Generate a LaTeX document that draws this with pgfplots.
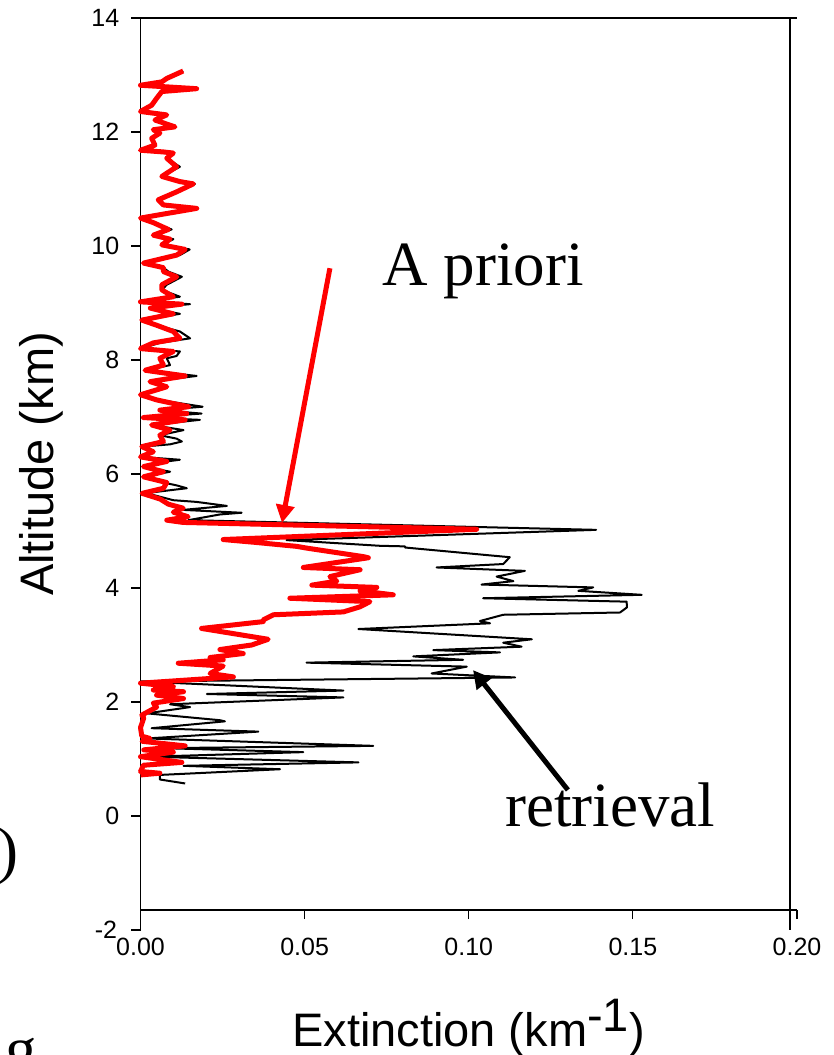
\documentclass[border=0pt]{standalone}
\usepackage{pgfplots}
\pgfplotsset{compat=1.18}
\usepackage{pgfplotstable}
\usepackage{fontspec}
\setmainfont{Liberation Serif}
\newfontfamily\arial{Liberation Sans}
\usetikzlibrary{arrows.meta}

\pgfplotstableread{
y x
13.07 0.0130
12.94 0.0080
12.88 0.0065
12.82 0.0000
12.76 0.0171
12.71 0.0065
12.59 0.0049
12.47 0.0034
12.36 0.0000
12.30 0.0080
12.21 0.0044
12.09 0.0105
12.04 0.0039
11.98 0.0059
11.89 0.0034
11.77 0.0044
11.68 0.0000
11.65 0.0070
11.63 0.0100
11.54 0.0080
11.39 0.0110
11.22 0.0065
11.13 0.0120
11.09 0.0161
10.95 0.0110
10.81 0.0054
10.72 0.0070
10.66 0.0171
10.57 0.0080
10.49 0.0000
10.41 0.0039
10.29 0.0085
10.19 0.0039
10.12 0.0090
10.02 0.0065
9.94 0.0136
9.84 0.0110
9.70 0.0009
9.62 0.0070
9.55 0.0070
9.46 0.0110
9.32 0.0065
9.23 0.0065
9.11 0.0100
9.02 0.0000
8.98 0.0126
8.91 0.0030
8.81 0.0100
8.70 0.0004
8.61 0.0049
8.50 0.0100
8.38 0.0120
8.30 0.0039
8.20 0.0000
8.15 0.0100
8.03 0.0059
7.91 0.0070
7.82 0.0014
7.72 0.0136
7.62 0.0029
7.53 0.0080
7.39 0.0000
7.30 0.0049
7.18 0.0146
7.12 0.0059
7.06 0.0141
6.99 0.0009
6.95 0.0136
6.86 0.0034
6.77 0.0090
6.68 0.0059
6.57 0.0070
6.48 0.0004
6.39 0.0039
6.30 0.0000
6.22 0.0080
6.13 0.0009
6.04 0.0070
5.95 0.0009
5.85 0.0080
5.75 0.0070
5.66 0.0005
5.56 0.0060
5.47 0.0085
5.40 0.0130
5.33 0.0100
5.25 0.0145
5.19 0.0080
5.15 0.0130
5.03 0.1024
4.85 0.0252
4.80 0.0350
4.73 0.0476
4.70 0.0506
4.55 0.0679
4.53 0.0694
4.36 0.0496
4.32 0.0669
4.20 0.0577
4.12 0.0598
4.05 0.0522
4.01 0.0720
3.95 0.0669
3.88 0.0770
3.82 0.0455
3.76 0.0699
3.67 0.0669
3.58 0.0618
3.53 0.0405
3.44 0.0374
3.41 0.0374
3.29 0.0186
3.10 0.0389
3.00 0.0339
2.92 0.0242
2.85 0.0313
2.78 0.0212
2.74 0.0252
2.68 0.0115
2.63 0.0252
2.50 0.0212
2.44 0.0283
2.33 0.0000
2.27 0.0100
2.21 0.0039
2.18 0.0131
2.12 0.0049
2.06 0.0131
1.98 0.0039
1.91 0.0049
1.77 0.0004
1.72 0.0010
1.55 0.0000
1.40 0.0004
1.36 0.0029
1.31 0.0005
1.23 0.0136
1.16 0.0010
1.12 0.0100
1.04 0.0000
0.94 0.0126
0.89 0.0009
0.78 0.0000
0.75 0.0059
0.72 0.0000
}\apriori

\pgfplotstableread{
y x
13.07 0.0130
12.94 0.0080
12.88 0.0065
12.82 0.0000
12.76 0.0171
12.71 0.0065
12.59 0.0049
12.47 0.0034
12.36 0.0000
12.30 0.0080
12.21 0.0044
12.09 0.0105
12.04 0.0039
11.98 0.0059
11.89 0.0034
11.77 0.0044
11.68 0.0000
11.65 0.0070
11.63 0.0100
11.54 0.0080
11.39 0.0120
11.22 0.0065
11.13 0.0120
11.09 0.0166
10.95 0.0110
10.81 0.0054
10.72 0.0070
10.66 0.0176
10.57 0.0080
10.49 0.0000
10.41 0.0039
10.29 0.0095
10.19 0.0039
10.12 0.0100
10.02 0.0065
9.94 0.0150
9.84 0.0120
9.70 0.0009
9.62 0.0070
9.55 0.0085
9.46 0.0126
9.32 0.0080
9.23 0.0065
9.11 0.0120
9.02 0.0000
8.98 0.0151
8.91 0.0030
8.81 0.0120
8.70 0.0004
8.61 0.0049
8.50 0.0120
8.38 0.0151
8.30 0.0059
8.20 0.0000
8.15 0.0120
8.07 0.0110
8.03 0.0080
7.91 0.0090
7.82 0.0014
7.72 0.0171
7.62 0.0029
7.53 0.0080
7.39 0.0000
7.30 0.0055
7.18 0.0189
7.12 0.0059
7.06 0.0186
6.99 0.0009
6.95 0.0181
6.86 0.0034
6.77 0.0131
6.68 0.0059
6.62 0.0110
6.57 0.0126
6.52 0.0090
6.48 0.0004
6.39 0.0039
6.30 0.0000
6.25 0.0120
6.22 0.0080
6.13 0.0009
6.04 0.0090
5.95 0.0009
5.85 0.0070
5.80 0.0110
5.75 0.0141
5.66 0.0010
5.63 0.0040
5.54 0.0100
5.51 0.0171
5.44 0.0263
5.37 0.0130
5.32 0.0308
5.29 0.0242
5.19 0.0146
5.02 0.1388
4.84 0.0445
4.74 0.0730
4.73 0.0806
4.71 0.0806
4.54 0.1125
4.42 0.1105
4.36 0.0902
4.30 0.1171
4.20 0.1085
4.12 0.1136
4.06 0.1039
4.01 0.1379
3.95 0.1334
3.88 0.1527
3.82 0.1044
3.76 0.1481
3.66 0.1482
3.57 0.1461
3.53 0.1105
3.42 0.1034
3.38 0.1065
3.28 0.0664
3.10 0.1192
3.04 0.1105
2.97 0.1161
2.91 0.0892
2.87 0.1095
2.80 0.0831
2.74 0.0983
2.69 0.0506
2.62 0.0994
2.50 0.0887
2.43 0.1141
2.36 0.0000
2.20 0.0618
2.14 0.0202
2.08 0.0618
1.96 0.0090
1.91 0.0151
1.80 0.0020
1.68 0.0242
1.66 0.0257
1.54 0.0034
1.48 0.0359
1.36 0.0020
1.23 0.0709
1.19 0.0070
1.12 0.0496
1.04 0.0029
0.94 0.0664
0.88 0.0131
0.82 0.0425
0.72 0.0059
0.64 0.0059
0.57 0.0136
}\retrieval

\begin{document}
\begin{tikzpicture}
\begin{axis}[
  at={(70.25pt,-455pt)}, anchor=south west,
  scale only axis, width=328.25pt, height=446pt,
  xmin=0, xmax=0.2, ymin=-1.65, ymax=14,
  axis lines*=left,
  axis line style={black, line width=0.6pt},
  clip=false,
  tick align=outside,
  major tick length=4.6pt,
  tick style={black, line width=0.6pt},
  xtick={0,0.05,0.1,0.15,0.2},
  ytick={0,2,4,6,8,10,12,14},
  scaled x ticks=false,
  /pgf/number format/assume math mode=true,
  ticklabel style={font=\arial\fontsize{12.5}{14}\selectfont},
  x tick label style={/pgf/number format/.cd, fixed, fixed zerofill, precision=2, /tikz/.cd, yshift=-6pt},
  y tick label style={xshift=-2.5pt},
]
\addplot[black, line width=1pt, line join=round] table[x=x, y=y]{\retrieval};
\addplot[red, line width=2.5pt, line join=round] table[x=x, y=y]{\apriori};
% arrows
\draw[red, line width=2.5pt, -{Triangle[width=9pt,length=9pt]}] (axis cs:0.0577,9.61) -- (axis cs:0.0431,5.14);
\draw[black, line width=2.5pt, -{Triangle[width=9pt,length=9pt]}] (axis cs:0.1302,0.456) -- (axis cs:0.1013,2.56);
\end{axis}
% frame parts (absolute coordinates: 1 px = 0.5 pt)
\draw[line width=0.6pt] (70.25pt,-9pt) -- (398.5pt,-9pt);
\draw[line width=0.6pt] (395pt,-9pt) -- (395pt,-465pt);
\draw[line width=0.6pt] (70.25pt,-454.7pt) -- (70.25pt,-465pt);
\draw[line width=0.6pt] (70.55pt,-465pt) -- (65.65pt,-465pt);
\node[anchor=east, font=\arial\fontsize{12.5}{14}\selectfont, inner sep=0pt] at (58.7pt,-465pt) {-2};
% labels
\node[anchor=base, font=\arial\fontsize{23.5}{26}\selectfont, inner sep=0pt] at (234.25pt,-523pt) {Extinction (km\raisebox{7.5pt}{-1})};
\node[anchor=base, rotate=90, font=\arial\fontsize{23.5}{26}\selectfont, inner sep=0pt] at (27pt,-232pt) {Altitude (km)};
\node[anchor=base west, font=\fontsize{31.5}{34}\selectfont, inner sep=0pt] at (191pt,-142.5pt) {A priori};
\node[anchor=base west, font=\fontsize{31.5}{34}\selectfont, inner sep=0pt] at (252.5pt,-413pt) {retrieval};
% cropped fragments of neighbouring text
\node[anchor=base west, font=\fontsize{31.5}{34}\selectfont, inner sep=0pt] at (-1.3pt,-435.5pt) {)};
\node[anchor=base west, font=\fontsize{31.5}{34}\selectfont, inner sep=0pt] at (2.5pt,-535pt) {g};
\pgfresetboundingbox
\path[use as bounding box] (0,0) rectangle (417pt,-527.5pt);
\end{tikzpicture}
\end{document}
